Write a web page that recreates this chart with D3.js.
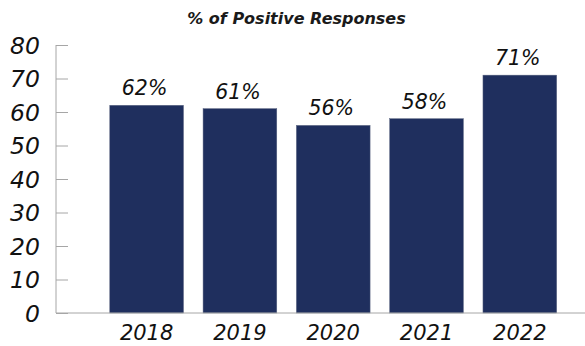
<!DOCTYPE html>
<html>
<head>
<meta charset="utf-8">
<script src="https://cdn.jsdelivr.net/npm/d3@7"></script>
<style>
  html, body { margin: 0; padding: 0; background: #fff; }
  svg { display: block; font-family: "DejaVu Sans", sans-serif; font-style: italic; }
</style>
</head>
<body>
<svg id="chart" width="585" height="346"></svg>
<script>
// Share of positive responses per survey year
const years = ["2018", "2019", "2020", "2021", "2022"];
const positive = [62, 61, 56, 58, 71];
const yTicks = [0, 10, 20, 30, 40, 50, 60, 70, 80];
const chartTitle = "% of Positive Responses";

const svg = d3.select("#chart");
const plotLeft = 56, plotRight = 585, plotTop = 45, plotBottom = 313;

const x = d3.scaleBand()
  .domain(years)
  .range([plotLeft, plotRight])
  .paddingInner(0.21)
  .paddingOuter(0.44)
  .align(0.655);

const y = d3.scaleLinear().domain([0, 80]).range([plotBottom, plotTop]);

// title
svg.append("text")
  .attr("x", 296.5).attr("y", 24)
  .attr("text-anchor", "middle")
  .attr("font-size", 16).attr("font-weight", 700)
  .attr("fill", "#1a1a1a")
  .text(chartTitle);

// y axis
const yAxis = svg.append("g")
  .attr("transform", `translate(${plotLeft},0)`)
  .call(d3.axisRight(y).tickValues(yTicks).tickSize(12).tickFormat(""));
yAxis.select(".domain").attr("stroke", "#a6a6a6").attr("d", `M0,${plotTop}V${plotBottom}`);
yAxis.selectAll(".tick line").attr("stroke", "#a6a6a6");

svg.append("g").selectAll("text")
  .data(yTicks)
  .join("text")
  .attr("x", 40).attr("y", d => y(d) + 8.5)
  .attr("text-anchor", "end")
  .attr("font-size", 23.5)
  .attr("fill", "#111")
  .text(d => d);

// bars
svg.append("g").selectAll("rect")
  .data(positive)
  .join("rect")
  .attr("x", (d, i) => x(years[i]))
  .attr("y", d => y(d))
  .attr("width", x.bandwidth())
  .attr("height", d => y(0) - y(d))
  .attr("fill", "#1f2f5e")
  .attr("stroke", "#5a6480")
  .attr("stroke-width", 0.5);

// value labels
svg.append("g").selectAll("text")
  .data(positive)
  .join("text")
  .attr("x", (d, i) => x(years[i]) + x.bandwidth() / 2 - 2)
  .attr("y", d => y(d) - 10)
  .attr("text-anchor", "middle")
  .attr("font-size", 20.5)
  .attr("fill", "#111")
  .text(d => d + "%");

// x axis
const xAxis = svg.append("g")
  .attr("transform", `translate(0,${plotBottom})`)
  .call(d3.axisBottom(x).tickSize(0).tickFormat(""));
xAxis.select(".domain").attr("stroke", "#a6a6a6").attr("d", `M${plotLeft},0H${plotRight}`);

svg.append("g").selectAll("text")
  .data(years)
  .join("text")
  .attr("x", d => x(d) + x.bandwidth() / 2)
  .attr("y", 340)
  .attr("text-anchor", "middle")
  .attr("font-size", 21)
  .attr("fill", "#111")
  .text(d => d);
</script>
</body>
</html>
